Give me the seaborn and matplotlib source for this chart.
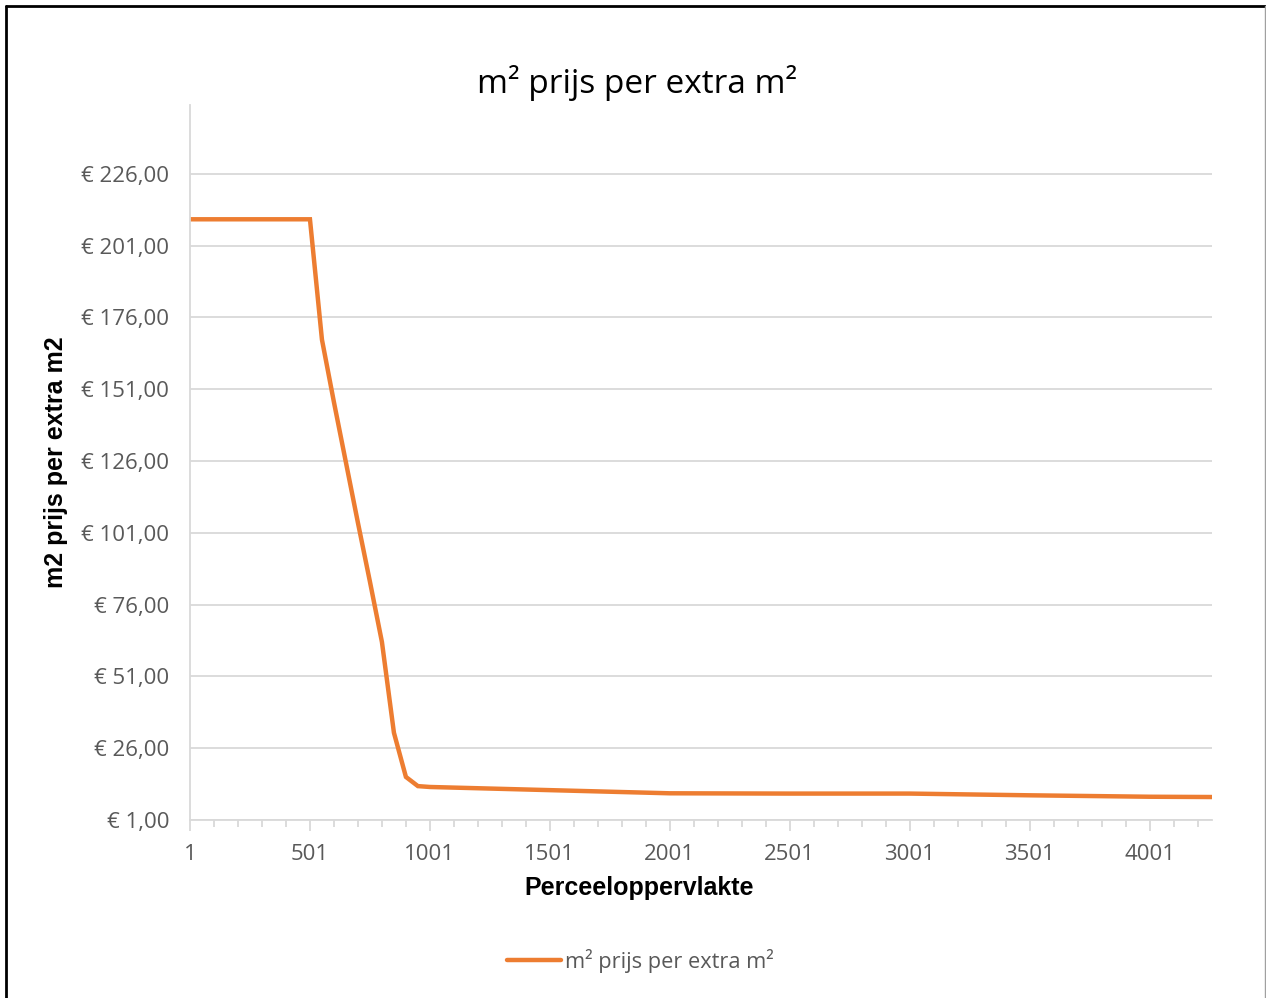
import numpy as np
import pandas as pd
import matplotlib
matplotlib.use("Agg")
import matplotlib.pyplot as plt
import matplotlib.ticker as ticker
from matplotlib.lines import Line2D
import seaborn as sns

sns.set_theme(style="white")
plt.rcParams['font.family'] = ['Open Sans', 'DejaVu Sans']

# oppervlakte (m2) en prijs per extra m2 (euro)
oppervlakte = [1, 501, 551, 601, 651, 701, 751, 801, 851, 901, 951,
               1001, 1501, 2001, 2501, 3001, 3501, 4001, 4261]
prijs = [210.2, 210.2, 168.3, 146.5, 125.5, 104.5, 84.0, 63.0, 31.4, 16.0, 12.8,
         12.5, 11.4, 10.3, 10.2, 10.2, 9.6, 9.1, 9.0]

y_ticks = [1, 26, 51, 76, 101, 126, 151, 176, 201, 226]
x_ticks = [1, 501, 1001, 1501, 2001, 2501, 3001, 3501, 4001]

df = pd.DataFrame({'oppervlakte': oppervlakte, 'prijs': prijs})

oranje = '#ED7D31'
grijs_tekst = '#595959'
grijs_lijn = '#D9D9D9'

fig = plt.figure(figsize=(12.66, 9.98), dpi=100)
ax = fig.add_axes([190/1266, 1 - 820/998, (1212-190)/1266, (820-105)/998])

sns.lineplot(data=df, x='oppervlakte', y='prijs', color=oranje, linewidth=3.2,
             ax=ax, legend=False, solid_joinstyle='miter')

ax.set_xlim(1, 4261)
ax.set_ylim(1, 250)
ax.set_yticks(y_ticks)
ax.set_xticks(x_ticks)
ax.xaxis.set_minor_locator(ticker.FixedLocator(np.arange(101, 4261, 100)))
ax.yaxis.set_major_formatter(ticker.FuncFormatter(lambda v, p: f"€ {v:,.2f}".replace('.', ',')))

ax.grid(axis='y', color=grijs_lijn, linewidth=1.3)
ax.set_axisbelow(True)
for kant in ['top', 'right']:
    ax.spines[kant].set_visible(False)
for kant in ['left', 'bottom']:
    ax.spines[kant].set_color(grijs_lijn)
    ax.spines[kant].set_linewidth(1.3)

ax.tick_params(axis='y', length=0, pad=15, labelsize=16, labelcolor=grijs_tekst)
ax.tick_params(axis='x', which='major', length=8, width=1.3, color=grijs_lijn,
               bottom=True, pad=9, labelsize=16, labelcolor=grijs_tekst)
ax.tick_params(axis='x', which='minor', length=5, width=1.3, color=grijs_lijn, bottom=True)

ax.set_xlabel('Perceeloppervlakte', fontsize=18, fontweight='bold', color='black',
              family=['Liberation Sans', 'DejaVu Sans'])
ax.xaxis.set_label_coords((639 - 190) / 1022, -0.078)
ax.set_ylabel('m2 prijs per extra m2', fontsize=18, fontweight='bold', color='black',
              family=['Liberation Sans', 'DejaVu Sans'])
ax.yaxis.set_label_coords(-(190 - 68) / 1022, 0.5)

fig.text(637/1266, 1 - 83/998, 'm² prijs per extra m²', fontsize=24, color='black',
         ha='center', va='center')

handle = Line2D([], [], color=oranje, linewidth=3.2, solid_capstyle='round')
fig.legend([handle], ['m² prijs per extra m²'], loc='center', bbox_to_anchor=(640/1266, 1 - 961/998),
           frameon=False, fontsize=15.7, labelcolor=grijs_tekst, handlelength=2.5,
           handletextpad=0.15)

# rand om de grafiek
fig.add_artist(Line2D([6/1266, 6/1266], [0, 1 - 6/998], color='black', linewidth=2))
fig.add_artist(Line2D([6/1266, 1265/1266], [1 - 6/998, 1 - 6/998], color='black', linewidth=2))
fig.add_artist(Line2D([1265/1266, 1265/1266], [0, 1 - 6/998], color='#A0A0A0', linewidth=1))

fig.savefig('out.png', dpi=100)
